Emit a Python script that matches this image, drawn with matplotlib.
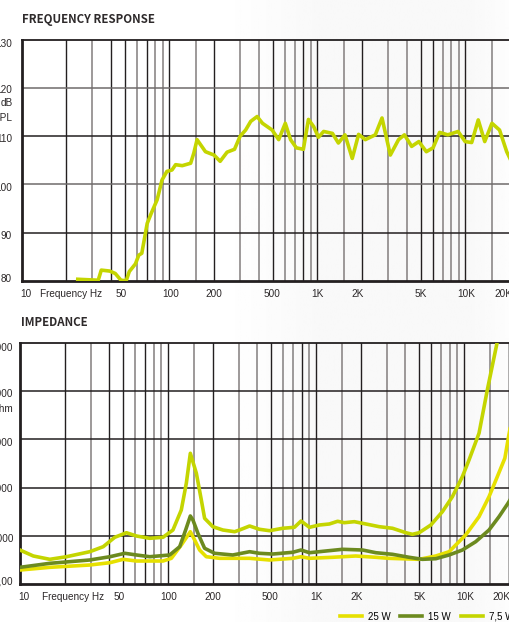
import numpy as np
import matplotlib
matplotlib.use("Agg")
import matplotlib.pyplot as plt
from matplotlib.ticker import NullLocator

# ---------------- data ----------------
fr_freq = [24, 33, 34.6, 39.5, 43, 47, 51, 53.5, 58.9, 62, 65, 70.7, 76, 82.5, 89, 96,
           104, 110, 122, 139, 146, 153.6, 175, 200, 220, 245, 275, 300, 327, 354, 391,
           425, 494, 547, 606, 658, 720, 803, 869, 943, 1015, 1101, 1262, 1385, 1535,
           1718, 1896, 2104, 2459, 2730, 3107, 3530, 3870, 4329, 4840, 5440, 6040, 6690,
           7600, 8920, 9950, 11020, 12200, 13500, 15100, 17000, 19000, 21000]
fr_db = [80.3, 80.1, 82.2, 82.0, 81.5, 80.1, 80.0, 81.9, 83.5, 85.3, 85.7, 91.9, 94.3,
         96.8, 100.9, 102.7, 103.0, 104.1, 103.9, 104.4, 106.5, 109.3, 106.8, 106.1,
         104.8, 106.7, 107.3, 110.0, 111.3, 113.1, 114.1, 112.7, 111.3, 109.3, 112.7,
         109.3, 107.6, 107.3, 113.5, 112.0, 109.8, 111.0, 110.6, 108.6, 110.3, 105.4,
         110.4, 109.3, 110.3, 113.8, 106.1, 109.3, 110.3, 107.9, 108.9, 106.8, 107.6,
         110.8, 110.3, 111.0, 108.9, 108.7, 113.4, 108.9, 112.7, 111.3, 106.8, 104.0]

imp75_freq = [10, 12.3, 15.9, 20.6, 29.6, 36.5, 43.7, 52.4, 61.2, 75.3, 92.5, 108, 123,
              133, 141.6, 155.5, 168, 176.8, 201, 235, 282, 304, 356, 415, 485, 596, 715,
              793, 903, 1054, 1231, 1401, 1554, 1816, 2177, 2676, 3290, 4052, 4488, 4980,
              5972, 7150, 8353, 9752, 10820, 12640, 14380, 16800, 18000]
imp75 = [0.705, 0.581, 0.512, 0.566, 0.670, 0.774, 0.969, 1.064, 0.996, 0.948, 0.969,
         1.120, 1.535, 2.089, 2.712, 2.297, 1.743, 1.363, 1.189, 1.120, 1.085, 1.120,
         1.203, 1.135, 1.106, 1.156, 1.176, 1.307, 1.176, 1.224, 1.245, 1.301, 1.272,
         1.293, 1.245, 1.189, 1.156, 1.064, 1.031, 1.064, 1.224, 1.500, 1.811, 2.226,
         2.573, 3.127, 4.025, 5.027, 5.6]

imp15_freq = [10, 15.9, 29.6, 40.5, 51.1, 61.2, 75.3, 102.7, 120, 131.6, 141.6, 147.4,
              159.3, 176.8, 206.7, 274, 356, 415, 511, 697, 793, 903, 1170, 1514, 2065,
              2543, 3290, 4264, 5243, 6455, 7935, 9752, 12010, 14770, 17250, 19840, 21000]
imp15 = [0.346, 0.429, 0.498, 0.566, 0.637, 0.602, 0.566, 0.602, 0.774, 1.120, 1.411,
         1.328, 1.052, 0.741, 0.637, 0.602, 0.670, 0.637, 0.622, 0.658, 0.705, 0.649,
         0.685, 0.720, 0.705, 0.649, 0.616, 0.554, 0.512, 0.525, 0.602, 0.705, 0.878,
         1.120, 1.396, 1.674, 1.80]

imp25_freq = [10, 15.9, 29.6, 40.5, 49.7, 61.2, 92.5, 105.4, 123, 141.6, 151.4, 163.6,
              181.5, 223.2, 356, 485, 697, 793, 903, 1292, 1855, 2543, 3100, 4980, 6455,
              7935, 10270, 12640, 14770, 16800, 18900, 20000, 21000]
imp25 = [0.290, 0.346, 0.394, 0.442, 0.512, 0.477, 0.477, 0.533, 0.809, 1.085, 0.913,
         0.705, 0.566, 0.533, 0.533, 0.498, 0.533, 0.566, 0.533, 0.554, 0.581, 0.554,
         0.533, 0.512, 0.581, 0.670, 1.017, 1.396, 1.811, 2.226, 2.61, 3.05, 3.4]

grid_freqs = [20, 30, 40, 50, 60, 70, 80, 90, 100, 150, 200, 300, 400, 500, 600, 700,
              800, 900, 1000, 1500, 2000, 3000, 4000, 5000, 6000, 7000, 8000, 9000,
              10000, 15000, 20000]
dark_freqs = [20, 40, 50, 70, 100, 200, 500, 800, 1000, 2000, 5000, 6000, 10000, 20000]

x_ticks = [10, 50, 100, 200, 500, 1000, 2000, 5000, 10000, 20000]
x_tick_labels = ['10', '50', '100', '200', '500', '1K', '2K', '5K', '10K', '20K']

fr_ticks = [130, 120, 110, 100, 90, 80]
fr_tick_labels = ['130', '120', '110', '100', '90', '80']
imp_ticks = [5, 4, 3, 2, 1, 0]
imp_tick_labels = ['5000', '4000', '3000', '2000', '1000', '0,00']
legend_labels = ['25 W', '15 W', '7,5 W']

# ---------------- style ----------------
C_FR = '#c4d500'
C_25 = '#e6e000'
C_15 = '#6c8a1f'
C_75 = '#c4d500'
C_DARK = '#231f20'
C_GRAY = '#8c8888'
C_TXT = '#2b2728'
REG = ['Liberation Sans', 'DejaVu Sans']
TITLE = ['Noto Sans CJK JP', 'Liberation Sans', 'DejaVu Sans']
LW = 2.6

W, H = 509, 622
fig = plt.figure(figsize=(W / 100, H / 100), dpi=100)

# faint grey page shading, as in the reference scan
bg = fig.add_axes([0, 0, 1, 1], zorder=-10)
xs = np.linspace(0, W, 200)
shade = np.interp(xs, [0, 220, 320, 470, 509], [1.0, 1.0, 0.975, 0.975, 0.99])
bg.imshow(np.tile(shade, (2, 1)), cmap='gray', vmin=0, vmax=1, aspect='auto',
          extent=[0, W, 0, H])
bg.set_axis_off()


def px_axes(l, t, r, b):
    return fig.add_axes([l / W, 1 - b / H, (r - l) / W, (b - t) / H])


ax1 = px_axes(21.5, 40, 510.0, 280.7)
ax2 = px_axes(20, 343, 508.5, 584)


def setup(ax, ylim, hlines, hcolors, right_visible):
    ax.set_xscale('log')
    ax.set_xlim(10, 20000)
    ax.set_ylim(*ylim)
    ax.xaxis.set_minor_locator(NullLocator())
    ax.tick_params(left=False, bottom=False, labelleft=False, labelbottom=False,
                   which='both')
    for f in grid_freqs:
        dark = f in dark_freqs
        ax.axvline(f, color=C_DARK if dark else C_GRAY, lw=1.0 if dark else 1.2, zorder=1)
    for yv, c in zip(hlines, hcolors):
        ax.axhline(yv, color=c, lw=1.1, zorder=1)
    ax.spines['left'].set_linewidth(2.0)
    ax.spines['bottom'].set_linewidth(2.0)
    ax.spines['top'].set_linewidth(1.3)
    for s in ax.spines.values():
        s.set_color(C_DARK)
    ax.spines['right'].set_visible(right_visible)
    ax.spines['right'].set_linewidth(1.0)
    ax.set_facecolor('none')


setup(ax1, (80, 130), [120, 110, 100, 90], ['#6f6b6b', C_DARK, '#6f6b6b', C_DARK], False)
setup(ax2, (0, 5), [4, 3, 2, 1], [C_DARK, C_DARK, C_DARK, C_DARK], True)

ax1.plot(fr_freq, fr_db, color=C_FR, lw=LW, solid_joinstyle='round', zorder=3)
l25, = ax2.plot(imp25_freq, imp25, color=C_25, lw=LW, zorder=3)
l15, = ax2.plot(imp15_freq, imp15, color=C_15, lw=LW, zorder=3)
l75, = ax2.plot(imp75_freq, imp75, color=C_75, lw=LW, zorder=3)

# y tick labels (cropped at the figure's left edge like the reference)
fr_dy = [-3.3, -0.7, -2, -2.4, -2.4, 2.4]
for v, lab, dy in zip(fr_ticks, fr_tick_labels, fr_dy):
    ax1.annotate(lab, xy=(0, v), xycoords=('axes fraction', 'data'),
                 xytext=(-9.5, dy), textcoords='offset pixels', ha='right',
                 va='center_baseline', fontsize=7.2, family=REG, color=C_TXT,
                 annotation_clip=False)
imp_dy = [-3.7, -1.7, -2.4, -0.7, -2, 3.3]
for v, lab, dy in zip(imp_ticks, imp_tick_labels, imp_dy):
    ax2.annotate(lab, xy=(0, v), xycoords=('axes fraction', 'data'),
                 xytext=(-6.7, dy), textcoords='offset pixels', ha='right',
                 va='center_baseline', fontsize=7.2, family=REG, color=C_TXT,
                 annotation_clip=False)

fig.text(13 / W, 1 - 101.7 / H, 'dB', ha='right', va='center_baseline', fontsize=7.2,
         family=REG, color=C_TXT)
fig.text(13 / W, 1 - 116.7 / H, 'SPL', ha='right', va='center_baseline', fontsize=7.2,
         family=REG, color=C_TXT)
fig.text(13.3 / W, 1 - 407.7 / H, 'Ohm', ha='right', va='center_baseline', fontsize=7.2,
         family=REG, color=C_TXT)

# x tick labels
x_dx = [4, -4, 1, 0, -1, 0, -4, 0, 1, -16]
for ax, dyp in ((ax1, -12.6), (ax2, -11.7)):
    for f, lab, dx in zip(x_ticks, x_tick_labels, x_dx):
        ax.annotate(lab, xy=(f, 0), xycoords=('data', 'axes fraction'),
                    xytext=(dx, dyp), textcoords='offset pixels',
                    ha='left' if lab == '20K' else 'center', va='center_baseline',
                    fontsize=7.2, family=REG, color=C_TXT, annotation_clip=False)
fig.text(40 / W, 1 - 293.3 / H, 'Frequency Hz', ha='left', va='center_baseline',
         fontsize=7.2, family=REG, color=C_TXT)
fig.text(41.7 / W, 1 - 595.7 / H, 'Frequency Hz', ha='left', va='center_baseline',
         fontsize=7.2, family=REG, color=C_TXT)

# titles
fig.text(22 / W, 1 - 18 / H, 'FREQUENCY RESPONSE', ha='left', va='center_baseline',
         fontsize=8.3, fontweight='bold', family=TITLE, color='#2e2a2b')
fig.text(21 / W, 1 - 320.7 / H, 'IMPEDANCE', ha='left', va='center_baseline',
         fontsize=8.3, fontweight='bold', family=TITLE, color='#2e2a2b')

# legend
fig.legend([l25, l15, l75], legend_labels, loc='center left',
           bbox_to_anchor=(340 / W, 1 - 616.7 / H), ncol=3, frameon=False,
           borderpad=0, borderaxespad=0, handlelength=2.26, handletextpad=0.62,
           columnspacing=1.0, prop={'family': REG, 'size': 7})

fig.savefig('out.png', dpi=100)
